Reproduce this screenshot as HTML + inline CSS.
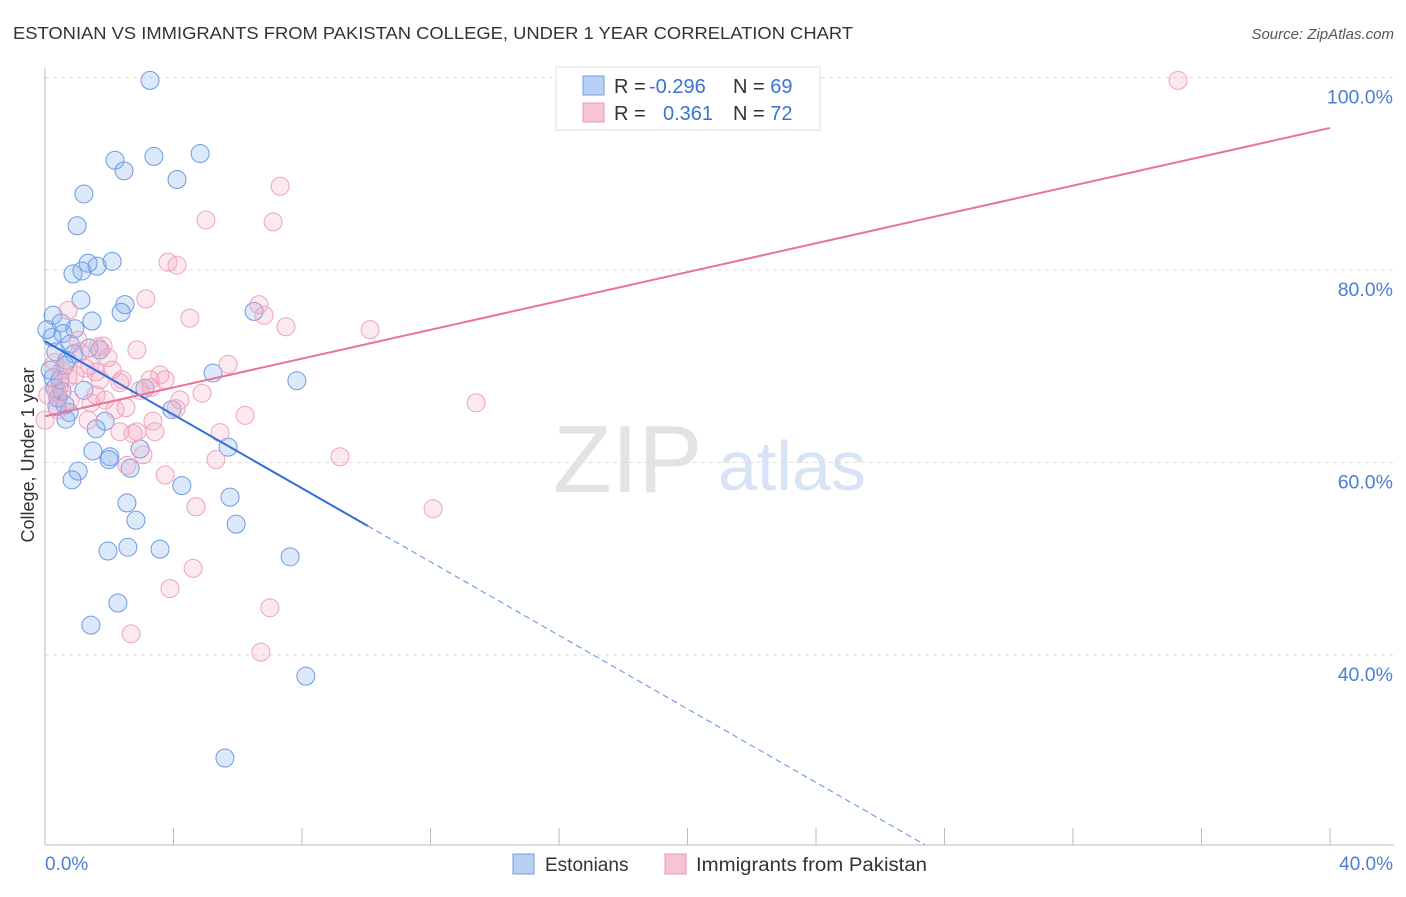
<!DOCTYPE html>
<html><head><meta charset="utf-8"><style>
body{margin:0;background:#fff;font-family:"Liberation Sans",sans-serif}
svg text{font-family:"Liberation Sans",sans-serif}
</style></head><body>
<svg id="chart" width="1406" height="892" viewBox="0 0 1406 892" xmlns="http://www.w3.org/2000/svg">
<text x="13" y="39" font-size="17.5" fill="#333" textLength="840" lengthAdjust="spacingAndGlyphs">ESTONIAN VS IMMIGRANTS FROM PAKISTAN COLLEGE, UNDER 1 YEAR CORRELATION CHART</text>
<text x="1394" y="39" font-size="15" fill="#555" font-style="italic" text-anchor="end">Source: ZipAtlas.com</text>
<g>
<text x="553" y="492" font-size="96" fill="#e3e3e3" font-family="Liberation Serif">ZIP</text>
<text x="718" y="490" font-size="70" fill="#d6e4f5">atlas</text>
</g>
<g id="grid"></g>
<g id="axes"></g>
<g id="pts"></g>
<g id="lines"></g>
<text transform="translate(34,455) rotate(-90)" font-size="18" fill="#333" text-anchor="middle">College, Under 1 year</text>
<g>
<rect x="556" y="67" width="264" height="63" fill="#fff" stroke="#ddd"/>
<rect x="583" y="76" width="21" height="19" fill="#b8d0f2" stroke="#6f9ee0"/>
<rect x="583" y="103" width="21" height="19" fill="#f8c3d3" stroke="#e99ab4"/>
<text x="614" y="93" font-size="20" fill="#333">R = <tspan x="649" fill="#3a74d0">-0.296</tspan><tspan x="733">N = </tspan><tspan fill="#3a74d0">69</tspan></text>
<text x="614" y="120" font-size="20" fill="#333">R = <tspan x="663" fill="#3a74d0">0.361</tspan><tspan x="733">N = </tspan><tspan fill="#3a74d0">72</tspan></text>
</g>
<g>
<rect x="513" y="854" width="21" height="20" fill="#b8d0f2" stroke="#6f9ee0"/>
<text x="545" y="871" font-size="19" fill="#333">Estonians</text>
<rect x="665" y="854" width="21" height="20" fill="#f8c3d3" stroke="#e99ab4"/>
<text x="696" y="871" font-size="19" fill="#333" textLength="231" lengthAdjust="spacingAndGlyphs">Immigrants from Pakistan</text>
</g>
</svg>
<script>
const blueX=[3.27,2.18,3.39,4.83,2.46,4.11,1.21,1.00,1.34,2.09,0.87,1.62,1.15,1.12,2.49,2.37,0.25,0.50,1.46,0.93,0.56,0.22,0.78,1.37,0.34,0.90,6.51,5.23,7.84,0.62,0.25,0.31,0.53,3.11,3.95,0.37,0.75,0.65,1.59,1.87,5.70,2.96,1.49,2.02,1.99,2.65,1.03,0.84,4.26,5.76,2.55,2.83,5.95,3.58,2.58,1.96,7.63,2.27,1.43,8.12,5.60,0.62,0.40,0.16,0.06,0.68,1.21,0.47,1.71];
const blueY=[99.7,91.4,91.8,92.1,90.3,89.4,87.9,84.6,80.7,80.9,79.6,80.4,79.9,76.9,76.4,75.6,75.3,74.5,74.7,73.9,73.4,73.0,72.3,71.9,71.5,71.3,75.7,69.3,68.5,70.1,68.8,67.7,67.4,67.7,65.5,65.8,65.2,64.5,63.5,64.3,61.6,61.4,61.2,60.6,60.3,59.4,59.1,58.2,57.6,56.4,55.8,54.0,53.6,51.0,51.2,50.8,50.2,45.4,43.1,37.8,29.3,66.0,66.7,69.6,73.8,70.6,67.5,68.6,71.7];
const pinkX=[35.27,16.40,7.32,5.01,7.10,3.83,4.11,3.14,6.66,4.51,6.82,0.72,7.50,10.12,1.81,2.86,1.65,1.09,1.96,3.58,5.70,2.40,3.30,1.59,1.43,2.52,2.18,0.37,0.09,4.08,3.36,6.23,4.89,13.42,1.40,0.93,0.72,0.47,0.0,2.33,2.74,2.86,3.42,3.05,5.45,5.32,9.18,2.55,3.74,12.08,4.70,4.61,3.89,7.00,2.68,6.72,0.53,1.25,1.71,2.09,2.33,1.34,1.87,0.31,0.78,2.96,4.20,1.03,0.40,3.27,1.59,3.74];
const pinkY=[99.7,96.6,88.7,85.2,85.0,80.8,80.5,77.0,76.4,75.0,75.3,75.8,74.1,73.8,72.1,71.7,72.0,71.5,70.9,69.1,70.2,68.6,67.8,67.0,66.2,65.7,65.5,67.3,67.0,65.6,64.3,64.9,67.2,66.2,70.1,69.1,68.8,68.1,64.4,63.2,63.0,63.2,63.2,60.8,63.1,60.3,60.6,59.7,58.7,55.2,55.4,49.0,46.9,44.9,42.2,40.3,69.6,69.8,68.6,69.6,68.3,64.4,66.5,70.4,66.5,67.5,66.5,72.7,65.5,68.6,69.4,68.6];
const yTicks=[100,80,60,40];
const yTickLabels=["100.0%","80.0%","60.0%","40.0%"];
const xTickCount=10;
const blueTrend=[72.6,-1.91];
const pinkTrend=[64.8,0.749];
const blueSolidEnd=10.05;

const NS="http://www.w3.org/2000/svg";
const X=v=>45+v/40*1285;
const Y=v=>270-(v-80)*9.625;
function mk(tag,attrs,parent){const e=document.createElementNS(NS,tag);for(const k in attrs)e.setAttribute(k,attrs[k]);parent.appendChild(e);return e;}
const grid=document.getElementById('grid'),axes=document.getElementById('axes'),pts=document.getElementById('pts'),lines=document.getElementById('lines');
yTicks.forEach((t,i)=>{
  const l=mk('line',{x1:45,x2:1394,y1:Y(t),y2:Y(t),stroke:'#ddd','stroke-dasharray':'4,4'},grid);
  
  
  const tx=mk('text',{x:1393,y:Y(t)+26,'font-size':19.5,fill:'#4a7fd4','text-anchor':'end'},axes);
  tx.textContent=yTickLabels[i];
  
  
});
let a=mk('line',{x1:45,x2:45,y1:68,y2:845,stroke:'#bbb'},axes);


a=mk('line',{x1:45,x2:1394,y1:845,y2:845,stroke:'#bbb'},axes);


for(let i=1;i<=xTickCount;i++){
  const t=mk('line',{x1:X(i*4),x2:X(i*4),y1:828,y2:845,stroke:'#bbb'},axes);
  
  
}
let xl=mk('text',{x:45,y:870,'font-size':19,fill:'#4a7fd4'},axes);xl.textContent='0.0%';


xl=mk('text',{x:1393,y:870,'font-size':19,fill:'#4a7fd4','text-anchor':'end'},axes);xl.textContent='40.0%';


blueX.forEach((x,i)=>{
  const c=mk('circle',{cx:X(x),cy:Y(blueY[i]),r:9,fill:'rgba(130,175,240,0.28)',stroke:'#6d9be0','stroke-width':1},pts);
  
  
});
pinkX.forEach((x,i)=>{
  const c=mk('circle',{cx:X(x),cy:Y(pinkY[i]),r:9,fill:'rgba(245,165,195,0.26)',stroke:'#eea4bd','stroke-width':1},pts);
  
  
});
const by=x=>blueTrend[0]+blueTrend[1]*x, py=x=>pinkTrend[0]+pinkTrend[1]*x;
let ln=mk('line',{x1:X(0),y1:Y(by(0)),x2:X(blueSolidEnd),y2:Y(by(blueSolidEnd)),stroke:'#2f6fd6','stroke-width':2},lines);


const xEnd=(20.3-blueTrend[0])/blueTrend[1];
ln=mk('line',{x1:X(blueSolidEnd),y1:Y(by(blueSolidEnd)),x2:X(xEnd),y2:Y(by(xEnd)),stroke:'#5b8fdd','stroke-width':1,'stroke-dasharray':'6,4'},lines);


ln=mk('line',{x1:X(0),y1:Y(py(0)),x2:X(40),y2:Y(py(40)),stroke:'#e8739b','stroke-width':2},lines);


</script>
</body></html>
